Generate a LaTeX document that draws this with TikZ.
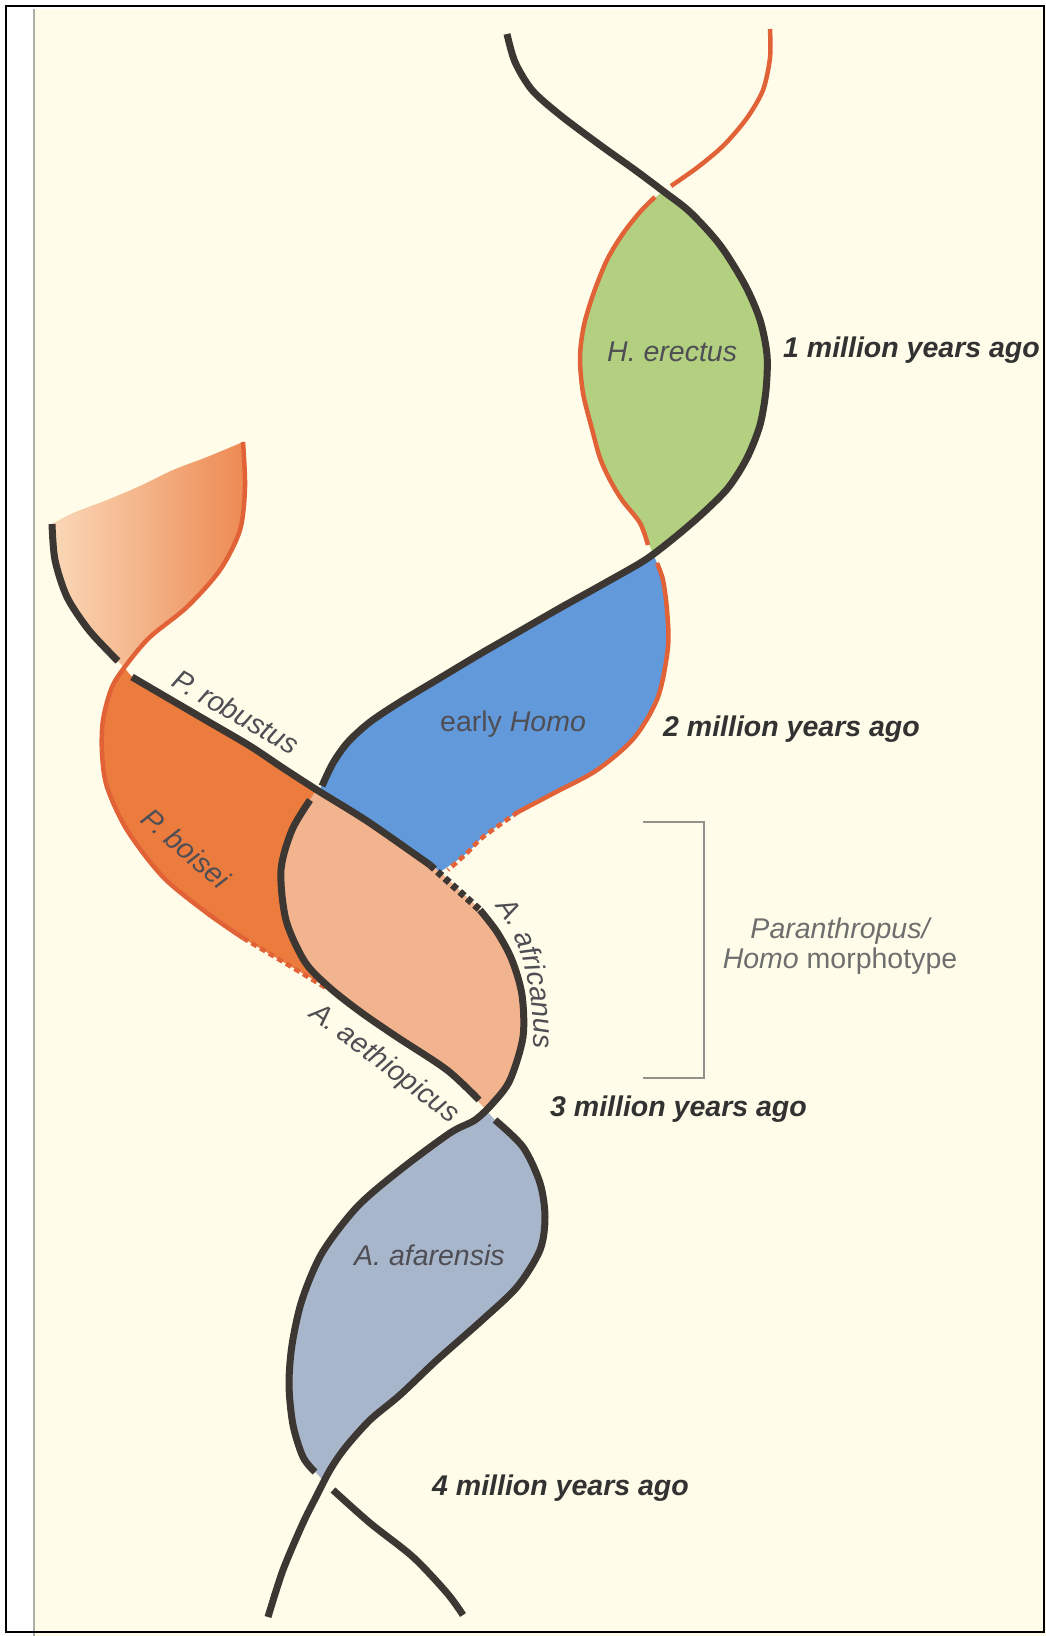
\documentclass[tikz,border=0pt]{standalone}
\usepackage{fontspec}
\setmainfont{Liberation Sans}
\usetikzlibrary{decorations.text}

\definecolor{paper}{RGB}{255,253,233}
\definecolor{pageedge}{RGB}{175,175,170}
\definecolor{strandgray}{RGB}{60,55,50}
\definecolor{strandred}{RGB}{226,98,55}
\definecolor{erectusgreen}{RGB}{178,208,128}
\definecolor{homoblue}{RGB}{98,153,218}
\definecolor{boiseiorange}{RGB}{236,124,62}
\definecolor{robustuslight}{RGB}{250,216,184}
\definecolor{robustusdark}{RGB}{237,138,82}
\definecolor{africanuspeach}{RGB}{241,180,142}
\definecolor{afarensisgray}{RGB}{168,182,204}
\definecolor{labelgray}{RGB}{78,78,84}
\definecolor{agegray}{RGB}{50,50,50}
\definecolor{notegray}{RGB}{110,110,110}
\definecolor{bracketgray}{RGB}{145,145,140}

\newcommand{\speciesfont}{\fontsize{28.5}{30}\selectfont\itshape}
\newcommand{\agefont}{\fontsize{28.5}{31}\selectfont\bfseries\itshape}
\newcommand{\notefont}{\fontsize{28.5}{30}\selectfont}

\begin{document}
\begin{tikzpicture}[x=1pt,y=-1pt,
    strand/.style={draw=strandgray,line width=7pt,line join=round},
    redstrand/.style={draw=strandred,line width=4.5pt,line join=round},
    broken/.style={dash pattern=on 6pt off 4pt},
    species/.style={font=\speciesfont,text=labelgray,inner sep=0pt},
    age/.style={font=\agefont,text=agegray,inner sep=0pt,anchor=base west}]

  \useasboundingbox (0,0) rectangle (1046,1636);

  % Page
  \fill[white] (0,0) rectangle (1046,1636);
  \fill[paper] (34,9) rectangle (1046,1636);
  \draw[pageedge,line width=1.5pt] (34,9) -- (34,1636);

  % Lineage fills
  \shade[left color=robustuslight,right color=robustusdark]
    plot[smooth] coordinates {(52,524) (55,560) (67,597) (88,629) (110,653) (125,668)}
    -- plot[smooth] coordinates {(125,668) (150,637) (187,607) (220,570) (240,530) (245,487) (243,442)}
    -- plot[smooth] coordinates {(243,442) (207,457) (173,470) (140,486) (107,500) (73,513) (52,524)}
    -- cycle;
  \fill[erectusgreen]
    plot[smooth] coordinates {(663,191) (640,212) (622,235) (607,260) (594,292) (584,325) (580,357) (583,393) (592,429) (600,458) (610,480) (622,500) (640,523) (653,554)}
    -- plot[smooth] coordinates {(653,554) (674,538) (702,514) (728,488) (747,458) (760,425) (766,390) (767,355) (760,320) (745,285) (720,245) (690,212) (663,191)}
    -- cycle;
  \fill[homoblue]
    plot[smooth] coordinates {(653,554) (657,563) (663,580) (667,610) (668,647) (658,697) (634,738) (597,770) (556,792) (518,812) (483,837) (467,853) (440,872)}
    -- plot[smooth] coordinates {(440,872) (423,860) (367,821) (320,789)}
    -- plot[smooth] coordinates {(320,789) (333,763) (348,742) (370,722) (400,702) (440,678) (480,654) (520,631) (560,608) (605,583) (645,560) (653,554)}
    -- cycle;
  \fill[boiseiorange]
    plot[smooth] coordinates {(125,668) (112,687) (103,720) (102,753) (107,787) (127,830) (163,877) (207,913) (243,938) (285,963) (328,988)}
    -- plot[smooth] coordinates {(328,988) (305,962) (286,920) (281,870) (292,830) (316,791)}
    -- plot[smooth] coordinates {(316,791) (283,768) (250,746) (209,722) (173,701) (136,680) (125,668)}
    -- cycle;
  \fill[africanuspeach]
    plot[smooth] coordinates {(316,791) (292,830) (281,870) (286,920) (305,962) (330,988) (362,1013) (397,1037) (447,1070) (486,1110)}
    -- plot[smooth] coordinates {(486,1110) (510,1080) (523,1037) (522,995) (512,960) (497,932) (480,910) (440,872) (423,860) (367,821) (316,791)}
    -- cycle;
  \fill[afarensisgray]
    plot[smooth] coordinates {(486,1110) (475,1120) (450,1133) (400,1170) (357,1207) (322,1253) (302,1300) (292,1345) (289,1385) (293,1425) (303,1457) (324,1481)}
    -- plot[smooth] coordinates {(324,1481) (330,1470) (345,1448) (370,1420) (400,1395) (437,1360) (480,1322) (517,1287) (540,1250) (545,1217) (540,1183) (523,1147) (497,1122) (486,1110)}
    -- cycle;

  % Orange strands
  \draw[redstrand] plot[smooth] coordinates {(770,29) (770,58) (763,90) (747,118) (724,145) (698,167) (671,186)};
  \draw[redstrand] plot[smooth] coordinates {(655,197) (640,212) (622,235) (607,260) (594,292) (584,325) (580,357) (583,393) (592,429) (600,458) (610,480) (622,500) (640,523) (648,545)};
  \draw[redstrand] plot[smooth] coordinates {(657,563) (663,580) (667,610) (668,647) (658,697) (634,738) (597,770) (556,792) (518,812)};
  \draw[redstrand,broken] plot[smooth] coordinates {(518,812) (483,837) (467,853) (448,870)};
  \draw[redstrand] plot[smooth] coordinates {(243,442) (245,487) (240,530) (220,570) (187,607) (150,637) (127,664) (112,687) (103,720) (102,753) (107,787) (127,830) (163,877) (207,913) (243,938)};
  \draw[redstrand,broken] plot[smooth] coordinates {(243,938) (285,963) (326,988)};

  % Dark strand from the upper left
  \draw[strand] plot[smooth] coordinates {(52,524) (55,560) (67,597) (88,629) (110,653) (118,661)};
  \draw[strand] plot[smooth] coordinates {(132,677) (173,701) (209,722) (250,746) (283,768) (317,790) (367,821) (423,860) (430,865)};
  \draw[strand,broken] (430,865) -- (480,910);
  \draw[strand] plot[smooth] coordinates {(480,910) (497,932) (512,960) (522,995) (523,1037) (510,1080) (493,1103) (475,1120) (450,1133) (400,1170) (357,1207) (322,1253) (302,1300) (292,1345) (289,1385) (293,1425) (303,1457) (315,1472)};
  \draw[strand] plot[smooth] coordinates {(333,1490) (370,1523) (413,1557) (447,1593) (463,1615)};

  % Dark strand from the top
  \draw[strand] plot[smooth] coordinates {(507,34) (515,62) (532,90) (560,115) (600,145) (635,170) (663,191) (690,212) (720,245) (745,285) (760,320) (767,355) (766,390) (760,425) (747,458) (728,488) (702,514) (674,538) (645,560) (605,583) (560,608) (520,631) (480,654) (440,678) (400,702) (370,722) (348,742) (333,763) (322,786)};
  \draw[strand] plot[smooth] coordinates {(310,800) (292,830) (281,870) (286,920) (305,962) (330,988) (362,1013) (397,1037) (447,1070) (479,1100)};
  \draw[strand] plot[smooth] coordinates {(495,1120) (523,1147) (540,1183) (545,1217) (540,1250) (517,1287) (480,1322) (437,1360) (400,1395) (370,1420) (345,1448) (330,1470) (316,1497) (303,1523) (283,1570) (268,1617)};

  % Species labels
  \node[species,anchor=base west] (erectus) at (607,361) {H. erectus};
  \node[species,anchor=base west] (earlyhomo) at (440,731) {\upshape early \itshape Homo};
  \node[species,anchor=base west] (afarensis) at (354,1265) {A. afarensis};
  \node[species,rotate=-30] (robustus) at (236,712) {P. robustus};
  \node[species,rotate=-41] (boisei) at (186,848) {P. boisei};
  \node[species,rotate=-37] (aethiopicus) at (384,1064) {A. aethiopicus};
  \path[decorate,decoration={text along path,text align=center,
      text={|\speciesfont\color{labelgray}|A. africanus}}]
    (489,899) .. controls (514,928) and (535,965) .. (534,1058);

  % Time scale
  \foreach \n/\x/\y in {1/783/357, 2/663/736, 3/550/1116, 4/432/1495}
    \node[age] (age\n) at (\x,\y) {\n\ million years ago};

  % Morphotype bracket
  \draw[bracketgray,line width=1.5pt] (643,822) -- (704,822) -- (704,1078) -- (643,1078);
  \node[font=\notefont,text=notegray,align=center,inner sep=0pt] (morpho) at (840,946)
    {\itshape Paranthropus/\\\itshape Homo\upshape\ morphotype};

  % Frame
  \draw[line width=2.5pt] (6,6) rectangle (1044,1632);
\end{tikzpicture}
\end{document}
